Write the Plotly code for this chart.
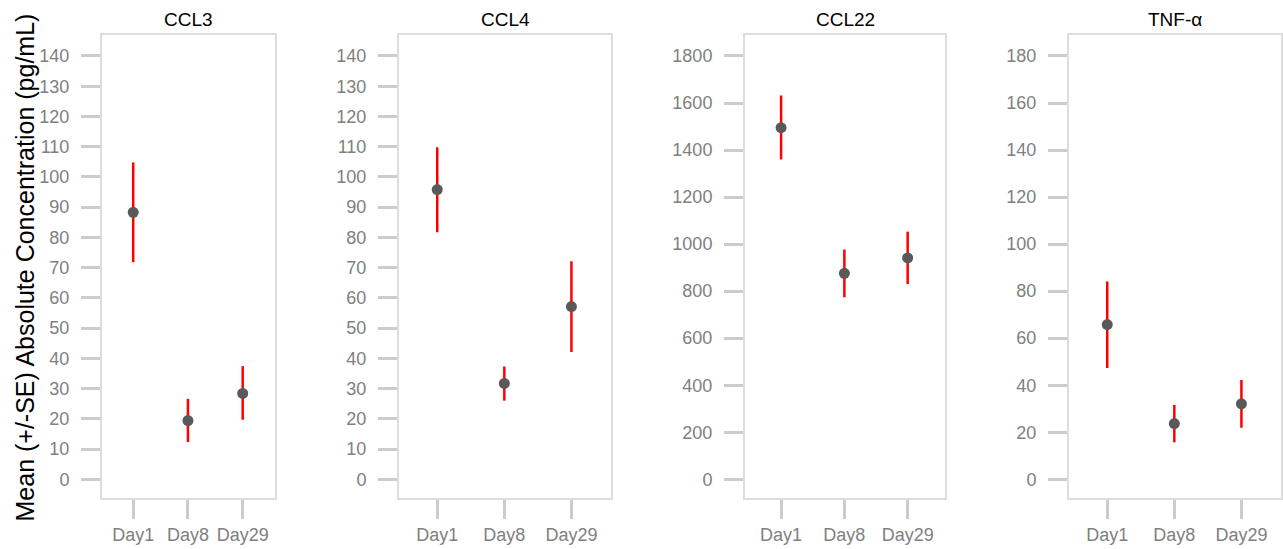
import plotly.graph_objects as go
from plotly.subplots import make_subplots

days = ["Day1", "Day8", "Day29"]
panels = ["CCL3", "CCL4", "CCL22", "TNF-α"]

ccl3_mean = [88.3, 19.4, 28.4]
ccl3_upper = [104.8, 26.6, 37.4]
ccl3_lower = [71.8, 12.3, 19.7]

ccl4_mean = [95.8, 31.7, 57.1]
ccl4_upper = [109.8, 37.3, 72.1]
ccl4_lower = [81.7, 26.0, 42.1]

ccl22_mean = [1495, 876, 941]
ccl22_upper = [1632, 977, 1053]
ccl22_lower = [1360, 774, 830]

tnf_mean = [65.8, 23.7, 32.1]
tnf_upper = [84.1, 31.6, 42.2]
tnf_lower = [47.3, 15.7, 21.9]

y_max = [140, 140, 1800, 180]
y_dtick = [10, 10, 200, 20]

means = [ccl3_mean, ccl4_mean, ccl22_mean, tnf_mean]
uppers = [ccl3_upper, ccl4_upper, ccl22_upper, tnf_upper]
lowers = [ccl3_lower, ccl4_lower, ccl22_lower, tnf_lower]

W, H = 1283, 549
box_px = [(102, 275), (399, 611), (745, 945), (1069, 1281)]
box_top, box_bot = 35, 498

fig = make_subplots(rows=1, cols=4)
FONT = "Liberation Sans, Arial, sans-serif"

for i in range(4):
    m, u, l = means[i], uppers[i], lowers[i]
    fig.add_trace(go.Scatter(
        x=days, y=m, mode="markers",
        marker=dict(color="#595959", size=11),
        error_y=dict(type="data", symmetric=False,
                     array=[a - b for a, b in zip(u, m)],
                     arrayminus=[b - c for b, c in zip(m, l)],
                     color="#ff0000", thickness=2.5, width=0),
        showlegend=False, hoverinfo="skip"), row=1, col=i + 1)
    x0, x1 = box_px[i]
    ax = dict(domain=[x0 / W, x1 / W], showgrid=False, zeroline=False,
              showline=True, mirror=True, linecolor="#dddddd", linewidth=2,
              ticks="outside", ticklen=19, tickwidth=3, tickcolor="#cccccc",
              tickfont=dict(family=FONT, size=18, color="#808080"),
              range=[-0.57, 2.59], type="category")
    ay = dict(domain=[1 - box_bot / H, 1 - box_top / H], showgrid=False, zeroline=False,
              showline=True, mirror=True, linecolor="#dddddd", linewidth=2,
              ticks="outside", ticklen=19, tickwidth=3, tickcolor="#cccccc",
              tickfont=dict(family=FONT, size=18, color="#808080"),
              range=[-0.0443 * y_max[i], 1.0496 * y_max[i]],
              tickmode="linear", tick0=0, dtick=y_dtick[i], ticklabelstandoff=8)
    sfx = "" if i == 0 else str(i + 1)
    fig.layout["xaxis" + sfx].update(ax)
    fig.layout["yaxis" + sfx].update(ay)
    fig.add_annotation(text=panels[i], xref="paper", yref="paper",
                       x=(x0 + x1) / 2 / W, y=1 - 19.5 / H, showarrow=False,
                       xanchor="center", yanchor="middle",
                       font=dict(family=FONT, size=19, color="#000000"))

fig.add_annotation(text="Mean (+/-SE) Absolute Concentration (pg/mL)",
                   xref="paper", yref="paper", x=24 / W, y=1 - 267.5 / H,
                   textangle=-90, showarrow=False, xanchor="center", yanchor="middle",
                   font=dict(family=FONT, size=25, color="#000000"))

fig.update_layout(width=W, height=H, margin=dict(l=0, r=0, t=0, b=0),
                  paper_bgcolor="white", plot_bgcolor="white")
fig.write_html("out.html")
